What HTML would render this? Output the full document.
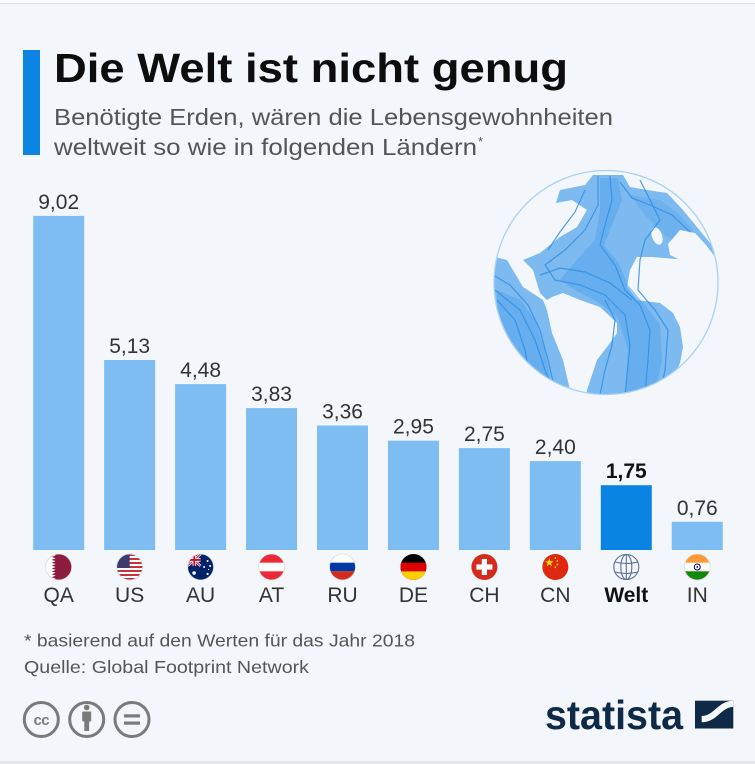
<!DOCTYPE html>
<html>
<head>
<meta charset="utf-8">
<style>
html,body{margin:0;padding:0;background:#f3f6fa;}
svg{display:block;}
</style>
</head>
<body>
<svg width="755" height="764" viewBox="0 0 755 764" xmlns="http://www.w3.org/2000/svg" font-family="'Liberation Sans', sans-serif">
<defs>
  <clipPath id="fc"><circle cx="0" cy="0" r="13"/></clipPath>
  <clipPath id="gc"><circle cx="606" cy="282.5" r="112"/></clipPath>
</defs>
<rect width="755" height="764" fill="#f3f6fa"/>
<rect width="755" height="3" fill="#fbfcfd"/>
<rect y="3" width="755" height="1" fill="#dde2e8"/>
<rect y="761" width="755" height="3" fill="#e3e7ec"/>

<!-- header -->
<rect x="23" y="50" width="17" height="105" fill="#0b84e4"/>
<text x="54" y="82" font-size="41" font-weight="bold" fill="#0d0d0d" textLength="514" lengthAdjust="spacingAndGlyphs">Die Welt ist nicht genug</text>
<text x="54" y="125" font-size="23" fill="#555" textLength="559" lengthAdjust="spacingAndGlyphs">Benötigte Erden, wären die Lebensgewohnheiten</text>
<text x="54" y="155" font-size="23" fill="#555" textLength="423" lengthAdjust="spacingAndGlyphs">weltweit so wie in folgenden Ländern</text>
<text x="478" y="146" font-size="13" fill="#555">*</text>

<!-- globe -->
<g clip-path="url(#gc)">
  <polygon fill="#7cbaf0" points="593,175 623,175 630,187 647,190 667,193 683,210 710,243 716,257 687,260 653,257 637,257 630,270 627,287 637,300 660,303 673,313 680,327 683,347 680,363 677,370 720,380 720,420 587,420 587,390 597,360 607,347 617,333 617,323 600,307 580,300 563,293 552,297 547,300 540,293 533,270 523,260 540,253 560,237 577,227 587,210 572,200 556,203 560,190 585,185"/>
  <polygon fill="#7cbaf0" points="495,257 507,260 523,287 543,300 547,310 552,333 563,360 570,390 575,420 470,420 470,257"/>
  <polygon fill="#5aa7ec" opacity="0.6" points="600,178 618,178 622,200 612,225 604,245 618,262 628,285 645,305 660,325 662,360 655,395 625,395 628,350 618,318 598,302 575,290 560,280 575,262 595,240 600,210"/>
  <polygon fill="#5aa7ec" opacity="0.6" points="497,290 520,300 535,320 545,350 553,395 500,395"/>
  <polygon fill="#5aa7ec" opacity="0.45" points="630,195 660,200 680,215 700,240 690,250 665,235 645,215"/>
  <ellipse cx="657" cy="236" rx="5" ry="9" transform="rotate(-20 657 236)" fill="#f3f6fa"/>
  <polygon fill="#f3f6fa" points="668,244 680,230 695,233 706,245 716,258 700,262 680,260 670,255"/>
  <ellipse cx="566" cy="224" rx="6" ry="3" fill="#f3f6fa"/>
  <g fill="none" stroke="#2f90e6" stroke-width="1.2" opacity="0.85">
    <polyline points="610,176 612,200 605,225 600,245 615,265 625,290 640,305 650,330 648,360 645,395"/>
    <polyline points="598,176 598,205 585,230 565,250 545,265 555,280 580,285 605,295 625,315 630,345 625,395"/>
    <polyline points="640,180 650,200 660,220 645,240 640,260 638,290 655,310 668,330 665,370 660,395"/>
    <polyline points="495,290 520,310 535,340 545,370 555,395"/>
    <polyline points="493,275 510,285 528,305 540,330 548,360 555,390"/>
    <polyline points="497,300 515,320 525,350 533,395"/>
    <polyline points="540,275 560,268 585,272 610,283 632,300"/>
    <polyline points="620,182 632,198 650,205 672,215 690,232"/>
    <polyline points="585,190 575,212 560,232 548,250"/>
    <polyline points="605,300 615,320 612,345 605,370 600,395"/>
  </g>
</g>
<circle cx="606" cy="282.5" r="112" fill="none" stroke="#a8d1f5" stroke-width="1.3"/>

<!-- bars -->
<g fill="#7dbdf1">
  <rect x="33.2" y="215.9" width="51" height="334.1"/>
  <rect x="104.15" y="360" width="51" height="190"/>
  <rect x="175.1" y="384.1" width="51" height="165.9"/>
  <rect x="246.05" y="408.1" width="51" height="141.9"/>
  <rect x="317" y="425.5" width="51" height="124.5"/>
  <rect x="387.95" y="440.7" width="51" height="109.3"/>
  <rect x="458.9" y="448.1" width="51" height="101.9"/>
  <rect x="529.85" y="461.1" width="51" height="88.9"/>
  <rect x="671.75" y="521.8" width="51" height="28.2"/>
</g>
<rect x="600.8" y="485.2" width="51" height="64.8" fill="#0a84e3"/>

<!-- value labels -->
<g font-size="21" fill="#333" text-anchor="middle">
  <text x="58.7" y="208.9">9,02</text>
  <text x="129.65" y="353">5,13</text>
  <text x="200.6" y="377.1">4,48</text>
  <text x="271.55" y="401.1">3,83</text>
  <text x="342.5" y="418.5">3,36</text>
  <text x="413.45" y="433.7">2,95</text>
  <text x="484.4" y="441.1">2,75</text>
  <text x="555.35" y="454.1">2,40</text>
  <text x="626.3" y="478.2" font-weight="bold" fill="#111">1,75</text>
  <text x="697.25" y="514.8">0,76</text>
</g>

<!-- country labels -->
<g font-size="21" fill="#333" text-anchor="middle">
  <text x="58.7" y="602">QA</text>
  <text x="129.65" y="602">US</text>
  <text x="200.6" y="602">AU</text>
  <text x="271.55" y="602">AT</text>
  <text x="342.5" y="602">RU</text>
  <text x="413.45" y="602">DE</text>
  <text x="484.4" y="602">CH</text>
  <text x="555.35" y="602">CN</text>
  <text x="626.3" y="602" font-weight="bold" fill="#111">Welt</text>
  <text x="697.25" y="602">IN</text>
</g>

<!-- flags -->
<g transform="translate(58.7,567)">
  <g clip-path="url(#fc)">
    <rect x="-13" y="-13" width="26" height="26" fill="#8d1b3d"/>
    <polygon fill="#fff" points="-13,-13 -7,-13 -3,-11.56 -7,-10.11 -3,-8.67 -7,-7.22 -3,-5.78 -7,-4.33 -3,-2.89 -7,-1.44 -3,0 -7,1.44 -3,2.89 -7,4.33 -3,5.78 -7,7.22 -3,8.67 -7,10.11 -3,11.56 -7,13 -13,13"/>
  </g>
  <circle r="13" fill="none" stroke="#dcdcdc" stroke-width="0.8"/>
</g>
<g transform="translate(129.65,567)">
  <g clip-path="url(#fc)">
    <rect x="-13" y="-13" width="26" height="26" fill="#fff"/>
    <g fill="#c8313e">
      <rect x="-13" y="-13" width="26" height="2"/>
      <rect x="-13" y="-9" width="26" height="2"/>
      <rect x="-13" y="-5" width="26" height="2"/>
      <rect x="-13" y="-1" width="26" height="2"/>
      <rect x="-13" y="3" width="26" height="2"/>
      <rect x="-13" y="7" width="26" height="2"/>
      <rect x="-13" y="11" width="26" height="2"/>
    </g>
    <rect x="-13" y="-13" width="13" height="14" fill="#3c3b6e"/>
  </g>
  <circle r="13" fill="none" stroke="#dcdcdc" stroke-width="0.8"/>
</g>
<g transform="translate(200.6,567)">
  <g clip-path="url(#fc)">
    <rect x="-13" y="-13" width="26" height="26" fill="#012169"/>
    <line x1="-13" y1="-13" x2="0" y2="-1" stroke="#fff" stroke-width="2.5"/>
    <line x1="0" y1="-13" x2="-13" y2="-1" stroke="#fff" stroke-width="2.5"/>
    <line x1="-13" y1="-13" x2="0" y2="-1" stroke="#c8102e" stroke-width="0.9"/>
    <line x1="0" y1="-13" x2="-13" y2="-1" stroke="#c8102e" stroke-width="0.9"/>
    <rect x="-8" y="-13" width="3.5" height="12" fill="#fff"/>
    <rect x="-13" y="-8.8" width="13" height="3.5" fill="#fff"/>
    <rect x="-7.2" y="-13" width="1.9" height="12" fill="#c8102e"/>
    <rect x="-13" y="-8" width="13" height="1.9" fill="#c8102e"/>
    <g fill="#fff">
      <circle cx="-6.5" cy="6" r="1.8"/>
      <circle cx="7" cy="-6" r="1"/>
      <circle cx="3.5" cy="0" r="1"/>
      <circle cx="9.5" cy="-1" r="1"/>
      <circle cx="7" cy="7" r="1.1"/>
      <circle cx="8" cy="2.5" r="0.6"/>
    </g>
  </g>
  <circle r="13" fill="none" stroke="#dcdcdc" stroke-width="0.8"/>
</g>
<g transform="translate(271.55,567)">
  <g clip-path="url(#fc)">
    <rect x="-13" y="-13" width="26" height="26" fill="#ed2939"/>
    <rect x="-13" y="-4.33" width="26" height="8.66" fill="#fff"/>
  </g>
  <circle r="13" fill="none" stroke="#dcdcdc" stroke-width="0.8"/>
</g>
<g transform="translate(342.5,567)">
  <g clip-path="url(#fc)">
    <rect x="-13" y="-13" width="26" height="26" fill="#fff"/>
    <rect x="-13" y="-4.33" width="26" height="8.66" fill="#0039a6"/>
    <rect x="-13" y="4.33" width="26" height="8.67" fill="#d52b1e"/>
  </g>
  <circle r="13" fill="none" stroke="#dcdcdc" stroke-width="0.8"/>
</g>
<g transform="translate(413.45,567)">
  <g clip-path="url(#fc)">
    <rect x="-13" y="-13" width="26" height="26" fill="#000"/>
    <rect x="-13" y="-4.33" width="26" height="8.66" fill="#dd0000"/>
    <rect x="-13" y="4.33" width="26" height="8.67" fill="#ffce00"/>
  </g>
</g>
<g transform="translate(484.4,567)">
  <circle r="13" fill="#d52b1e"/>
  <rect x="-2.6" y="-8" width="5.2" height="16" fill="#fff"/>
  <rect x="-8" y="-2.6" width="16" height="5.2" fill="#fff"/>
</g>
<g transform="translate(555.35,567)">
  <circle r="13" fill="#de2910"/>
  <polygon fill="#ffde00" points="-6,-9 -4.9,-5.8 -1.6,-5.8 -4.3,-3.8 -3.2,-0.6 -6,-2.6 -8.8,-0.6 -7.7,-3.8 -10.4,-5.8 -7.1,-5.8"/>
  <circle cx="0" cy="-9" r="0.9" fill="#ffde00"/>
  <circle cx="2" cy="-6" r="0.9" fill="#ffde00"/>
  <circle cx="2" cy="-2.5" r="0.9" fill="#ffde00"/>
  <circle cx="0" cy="0.3" r="0.9" fill="#ffde00"/>
</g>
<g transform="translate(626.3,567)" fill="none" stroke="#5b6d99" stroke-width="1.1">
  <circle r="12.5"/>
  <ellipse rx="5.5" ry="12.5"/>
  <path d="M-11.5,-5 Q0,-2 11.5,-5"/>
  <path d="M-11.5,5 Q0,8 11.5,5"/>
  <line x1="0" y1="-12.5" x2="0" y2="12.5"/>
</g>
<g transform="translate(697.25,567)">
  <g clip-path="url(#fc)">
    <rect x="-13" y="-13" width="26" height="26" fill="#ff9933"/>
    <rect x="-13" y="-4.33" width="26" height="8.66" fill="#fff"/>
    <rect x="-13" y="4.33" width="26" height="8.67" fill="#138808"/>
    <circle r="3" fill="none" stroke="#000080" stroke-width="1"/>
    <circle r="0.9" fill="#000080"/>
  </g>
  <circle r="13" fill="none" stroke="#dcdcdc" stroke-width="0.8"/>
</g>

<!-- footnotes -->
<text x="24" y="646.5" font-size="17.5" fill="#555" textLength="391" lengthAdjust="spacingAndGlyphs">* basierend auf den Werten für das Jahr 2018</text>
<text x="24" y="673" font-size="17.5" fill="#555" textLength="285" lengthAdjust="spacingAndGlyphs">Quelle: Global Footprint Network</text>

<!-- CC icons -->
<g fill="none" stroke="#7a7a7a" stroke-width="3">
  <circle cx="41.3" cy="719.5" r="17"/>
  <circle cx="86.7" cy="719.5" r="17"/>
  <circle cx="132" cy="719.5" r="17"/>
</g>
<text x="41.3" y="725" font-size="15" font-weight="bold" fill="#7a7a7a" text-anchor="middle" letter-spacing="-0.5">cc</text>
<g fill="#7a7a7a">
  <circle cx="86.7" cy="707.5" r="2.8"/>
  <rect x="82.2" y="711.5" width="9" height="10" rx="1"/>
  <rect x="84.3" y="720" width="4.8" height="11"/>
  <rect x="124" y="714.3" width="16" height="3.2"/>
  <rect x="124" y="721.5" width="16" height="3.2"/>
</g>

<!-- statista logo -->
<text x="545" y="729" font-size="41" font-weight="bold" fill="#0f2a46" textLength="138" lengthAdjust="spacingAndGlyphs">statista</text>
<rect x="695" y="700.7" width="38.3" height="27.8" fill="#0f2a46"/>
<path d="M701.7,716 C714,716 718,700.7 733.3,700.7 L733.3,707 C721,707 717,722.3 701.7,722.3 Z" fill="#f3f6fa"/>
</svg>
</body>
</html>
